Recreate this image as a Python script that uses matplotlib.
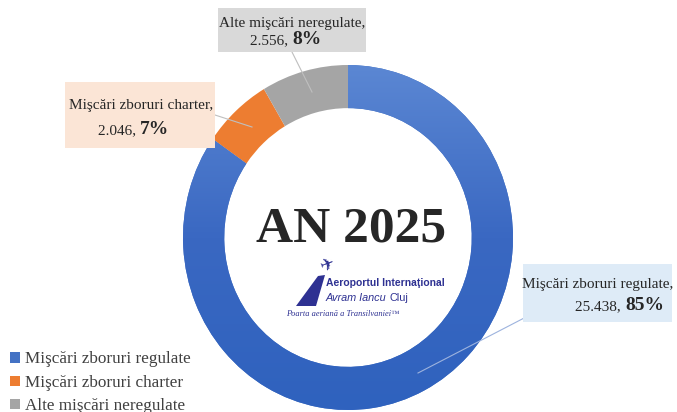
import matplotlib
matplotlib.use("Agg")
import matplotlib.pyplot as plt
import numpy as np
from matplotlib.patches import Rectangle, Polygon
from matplotlib.colors import LinearSegmentedColormap
from matplotlib.transforms import offset_copy

# ---- data ----
categories = ["Mişcări zboruri regulate", "Mişcări zboruri charter", "Alte mişcări neregulate"]
values = [25438, 2046, 2556]
value_labels = ["25.438", "2.046", "2.556"]
pct_labels = ["85%", "7%", "8%"]
box_titles = ["Mişcări zboruri regulate,", "Mişcări zboruri charter,", "Alte mişcări neregulate,"]
title_text = "AN 2025"

colors = ["#4472C4", "#ED7D31", "#A5A5A5"]
box_colors = ["#DEEBF7", "#FBE5D6", "#D9D9D9"]

W, H = 677, 412
fig = plt.figure(figsize=(W / 100, H / 100), dpi=100)
fig.patch.set_facecolor("white")

def px_axes(x0, y0, x1, y1):
    return fig.add_axes([x0 / W, 1 - y1 / H, (x1 - x0) / W, (y1 - y0) / H])

# donut axes (slightly elliptical as in reference)
pax = px_axes(183, 65, 513, 410)
wedges, _ = pax.pie(values, colors=colors, startangle=90, counterclock=False,
                    radius=1.0, wedgeprops=dict(width=0.25, edgecolor="none"))
pax.set_aspect("auto")
pax.set_xlim(-1, 1)
pax.set_ylim(-1, 1)
pax.axis("off")

# gradient on blue wedge
grad = np.linspace(0, 1, 256).reshape(-1, 1)
cmap = LinearSegmentedColormap.from_list("bl", ["#5B87D3", "#3A68C2", "#2F62BE"])
im = pax.imshow(grad, extent=(-1, 1, -1, 1), origin="upper", cmap=cmap, aspect="auto", zorder=2)
im.set_clip_path(wedges[0])
wedges[0].set_zorder(1)

# overlay axes in pixel coordinates
ov = fig.add_axes([0, 0, 1, 1], facecolor="none")
ov.set_xlim(0, W)
ov.set_ylim(H, 0)
ov.axis("off")

serif = "Liberation Serif"
lc = "#BFBFBF"

# leader lines
ov.plot([528, 418], [316, 373], color="#9DB3DE", lw=0.8, zorder=3)
ov.plot([215, 252], [115, 127], color=lc, lw=0.8, zorder=3)
ov.plot([292, 312], [52, 92], color=lc, lw=0.8, zorder=3)

# label boxes: (x0, y0, x1, y1, title_center_x, split_x)
boxes = [
    (523, 264, 672, 322, 598, 625),
    (65, 82, 215, 148, 141, 140),
    (218, 8, 366, 52, 292, 292),
]
for i, (x0, y0, x1, y1, cx, sx) in enumerate(boxes):
    ov.add_patch(Rectangle((x0, y0), x1 - x0, y1 - y0, facecolor=box_colors[i],
                           edgecolor="none", zorder=4))
    ov.text(cx, y0 + (y1 - y0) * 0.36, box_titles[i], ha="center", va="center",
            family=serif, fontsize=11, color="#262626", zorder=5)
    ov.text(sx, y0 + (y1 - y0) * 0.74, value_labels[i] + ", ", ha="right", va="center",
            family=serif, fontsize=11, color="#262626", zorder=5)
    ov.text(sx, y0 + (y1 - y0) * 0.72, pct_labels[i], ha="left", va="center",
            family=serif, fontsize=14, fontweight="bold", color="#262626", zorder=5)

# center title
ov.text(351, 229, title_text, ha="center", va="center", family=serif,
        fontsize=37, fontweight="bold", color="#262626", zorder=5)

# logo (approximation)
navy = "#2E3192"
ov.add_patch(Polygon([[296, 306], [318, 276], [325, 275], [316, 306]], closed=True,
                     facecolor=navy, edgecolor="none", zorder=5))
ov.text(327, 265, "\u2708", ha="center", va="center", fontsize=12, color=navy,
        family="DejaVu Sans", rotation=20, zorder=5)
ov.text(326, 283, "Aeroportul Internaţional", ha="left", va="center",
        family="Liberation Sans", fontsize=7.5, fontweight="bold", color=navy, zorder=5)
t_av = ov.text(326, 298, "Avram Iancu ", ha="left", va="center", family="Liberation Sans",
               fontsize=7.8, style="italic", color=navy, zorder=5)
fig.canvas.draw()
bb = t_av.get_window_extent()
ov.text(326, 298, "Cluj", ha="left", va="center", family="Liberation Sans",
        fontsize=7.8, color=navy, zorder=5,
        transform=offset_copy(ov.transData, fig=fig, x=bb.width, y=0, units="dots"))
ov.text(286, 314, "Poarta aeriană a Transilvaniei\u2122", ha="left", va="center",
        family=serif, fontsize=6, style="italic", color=navy, zorder=5)

# legend
leg = fig.legend(wedges, categories, loc="lower left", bbox_to_anchor=(0.0, -0.030),
                 frameon=False, prop=dict(family=serif, size=12.3), handlelength=0.55,
                 handleheight=0.55, handletextpad=0.3, labelspacing=0.43,
                 borderaxespad=0.2, labelcolor="#404040")

fig.savefig("out.png", dpi=100, facecolor="white")
